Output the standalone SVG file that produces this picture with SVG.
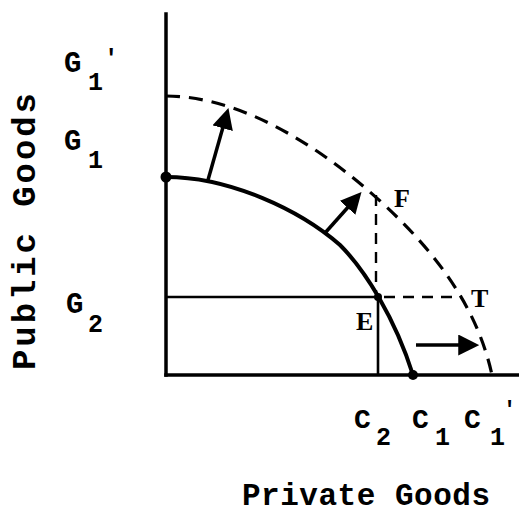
<svg xmlns="http://www.w3.org/2000/svg" width="519" height="513" viewBox="0 0 519 513">
<style>
.ax{stroke:#000;stroke-width:3.5;fill:none;stroke-linecap:square}
.sol{stroke:#000;stroke-width:4;fill:none}
.thin{stroke:#000;stroke-width:2.6;fill:none}
.dash{stroke:#000;stroke-width:3.2;fill:none;stroke-dasharray:14 9}
.dthin{stroke:#000;stroke-width:2.4;fill:none;stroke-dasharray:11 8}
.arr{stroke:#000;stroke-width:3.5;fill:none;marker-end:url(#ah)}
.lbl{font-family:"Liberation Mono","Courier New",monospace;font-weight:bold;fill:#000}
.ser{font-family:"Liberation Serif","Times New Roman",serif;font-weight:bold;fill:#000}
</style>
<defs>
<marker id="ah" markerWidth="6" markerHeight="6" refX="4.5" refY="3" orient="auto" markerUnits="strokeWidth">
<path d="M0,0 L6,3 L0,6 Z" fill="#000"/>
</marker>
</defs>
<g id="axes">
<line class="ax" x1="166" y1="14" x2="166" y2="375"/>
<line class="ax" x1="166" y1="375" x2="519" y2="375"/>
</g>
<g id="connectors">
<path id="ppf1" class="sol" d="M166,177 C230,177 300,210 340,245 C365,270 395,318 413,375"/>
<path id="ppf2" class="dash" d="M166,96 C250,96 340,160 400,220 C450,270 480,320 492,375"/>
<line class="thin" x1="166" y1="297" x2="378" y2="297"/>
<line class="thin" x1="378" y1="297" x2="378" y2="375"/>
<line class="dthin" x1="376" y1="195" x2="376" y2="293"/>
<line class="dthin" x1="384" y1="297" x2="462" y2="297"/>
<line class="arr" x1="208" y1="180" x2="227" y2="113"/>
<line class="arr" x1="325" y1="233" x2="358" y2="196"/>
<line class="arr" x1="416" y1="345" x2="474" y2="345"/>
</g>
<g id="points">
<circle cx="166" cy="177" r="5.5" fill="#000"/>
<circle cx="413" cy="375" r="5" fill="#000"/>
<circle cx="378" cy="297" r="4" fill="#000"/>
</g>
<g id="labels">
<text class="lbl" x="64" y="72" font-size="29">G</text>
<text class="lbl" x="88" y="90" font-size="25">1</text>
<text class="lbl" x="104" y="66" font-size="24">'</text>
<text class="lbl" x="64" y="150" font-size="29">G</text>
<text class="lbl" x="88" y="168" font-size="25">1</text>
<text class="lbl" x="66" y="313" font-size="29">G</text>
<text class="lbl" x="88" y="332" font-size="25">2</text>
<text class="lbl" x="354" y="428" font-size="28">C</text>
<text class="lbl" x="376" y="445" font-size="25">2</text>
<text class="lbl" x="412" y="428" font-size="28">C</text>
<text class="lbl" x="435" y="445" font-size="25">1</text>
<text class="lbl" x="464" y="428" font-size="28">C</text>
<text class="lbl" x="490" y="445" font-size="25">1</text>
<text class="lbl" x="503" y="416" font-size="22">'</text>
<text class="ser" x="356" y="330" font-size="26">E</text>
<text class="ser" x="394" y="207" font-size="26">F</text>
<text class="ser" x="471" y="307" font-size="26">T</text>
<text class="lbl" x="242" y="505" font-size="31" textLength="248" lengthAdjust="spacing">Private Goods</text>
<text class="lbl" transform="translate(35,370) rotate(-90)" x="0" y="0" font-size="34" textLength="277" lengthAdjust="spacing">Public Goods</text>
</g>
</svg>
